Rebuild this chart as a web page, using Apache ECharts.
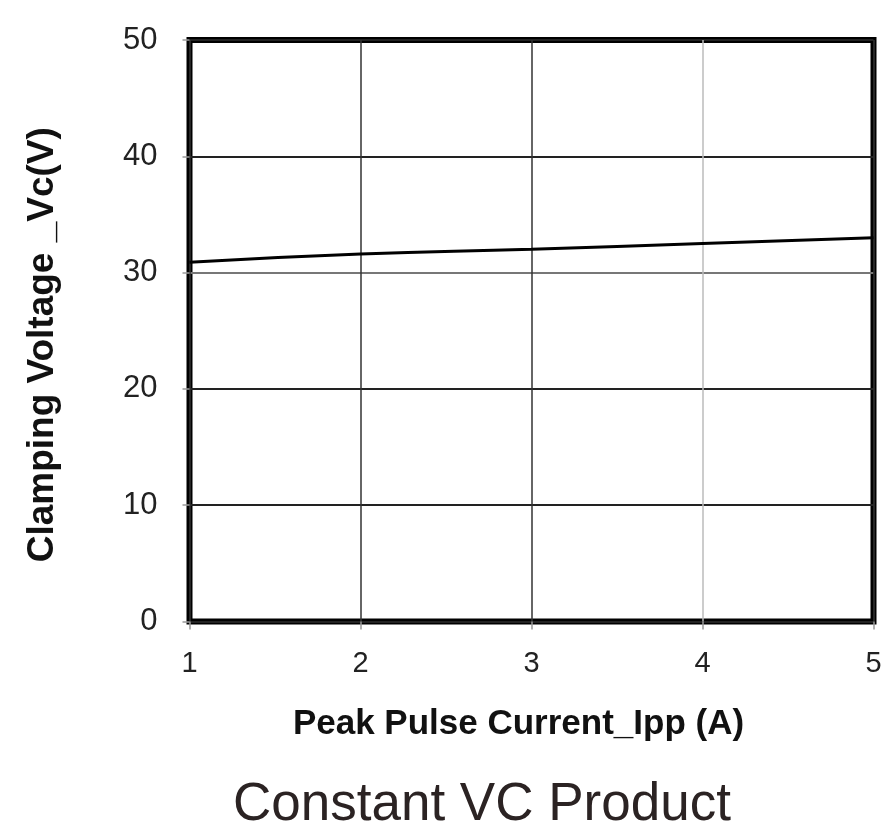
<!DOCTYPE html>
<html>
<head>
<meta charset="utf-8">
<script src="https://cdn.jsdelivr.net/npm/echarts@6/dist/echarts.min.js"></script>
<style>
html,body{margin:0;padding:0;background:#fff;}
#chart{width:888px;height:840px;}
</style>
</head>
<body>
<div id="chart"></div>
<script>
// Data
const currentIpp = [1, 2, 3, 4, 5];
const clampingVc = [30.9, 31.6, 32.0, 32.5, 33.0];
const xTicks = [1, 2, 3, 4, 5];
const yTicks = [0, 10, 20, 30, 40, 50];
const xAxisTitle = 'Peak Pulse Current_Ipp (A)';
const yAxisTitle = 'Clamping Voltage _Vc(V)';
const chartCaption = 'Constant VC Product';

const chart = echarts.init(document.getElementById('chart'), null, {renderer: 'canvas'});
const seriesData = currentIpp.map((x, i) => [x, clampingVc[i]]);

chart.setOption({
  backgroundColor: '#fff',
  animation: false,
  title: {
    text: chartCaption,
    left: 228,
    top: 774,
    textStyle: {
      fontFamily: 'Liberation Sans',
      fontSize: 53,
      fontWeight: 'normal',
      color: '#2b2323'
    }
  },
  grid: {
    left: 189.5,
    top: 40,
    right: 14.5,
    bottom: 218.5,
    show: true,
    borderColor: '#000',
    borderWidth: 6,
    backgroundColor: 'transparent'
  },
  xAxis: {
    type: 'value',
    min: xTicks[0],
    max: xTicks[xTicks.length - 1],
    interval: 1,
    name: xAxisTitle,
    nameLocation: 'middle',
    nameGap: 85,
    nameTextStyle: {
      fontFamily: 'Liberation Sans',
      fontWeight: 'bold',
      fontSize: 35,
      color: '#111',
      padding: [0, 26, 0, 0]
    },
    axisLine: {show: false},
    axisTick: {show: true, length: 8, lineStyle: {color: '#999', width: 1.5}},
    axisLabel: {
      margin: 28,
      fontFamily: 'Liberation Sans',
      fontSize: 29,
      color: '#222'
    },
    splitLine: {
      show: true,
      lineStyle: {color: ['#333', '#333', '#333', '#bbb', '#333'], width: 1.5}
    }
  },
  yAxis: {
    type: 'value',
    min: yTicks[0],
    max: yTicks[yTicks.length - 1],
    interval: 10,
    name: yAxisTitle,
    nameLocation: 'middle',
    nameRotate: 90,
    nameGap: 128,
    nameTextStyle: {
      fontFamily: 'Liberation Sans',
      fontWeight: 'bold',
      fontSize: 37,
      color: '#111',
      padding: [0, 28, 0, 0]
    },
    axisLine: {show: false},
    axisTick: {show: true, length: 7, lineStyle: {color: '#999', width: 1.5}},
    axisLabel: {
      margin: 32,
      fontFamily: 'Liberation Sans',
      fontSize: 31,
      color: '#222'
    },
    splitLine: {
      show: true,
      lineStyle: {color: ['#222', '#222', '#222', '#777', '#222', '#222'], width: 2}
    }
  },
  series: [{
    type: 'line',
    data: seriesData,
    smooth: true,
    showSymbol: false,
    lineStyle: {color: '#000', width: 3}
  }]
});
</script>
</body>
</html>
